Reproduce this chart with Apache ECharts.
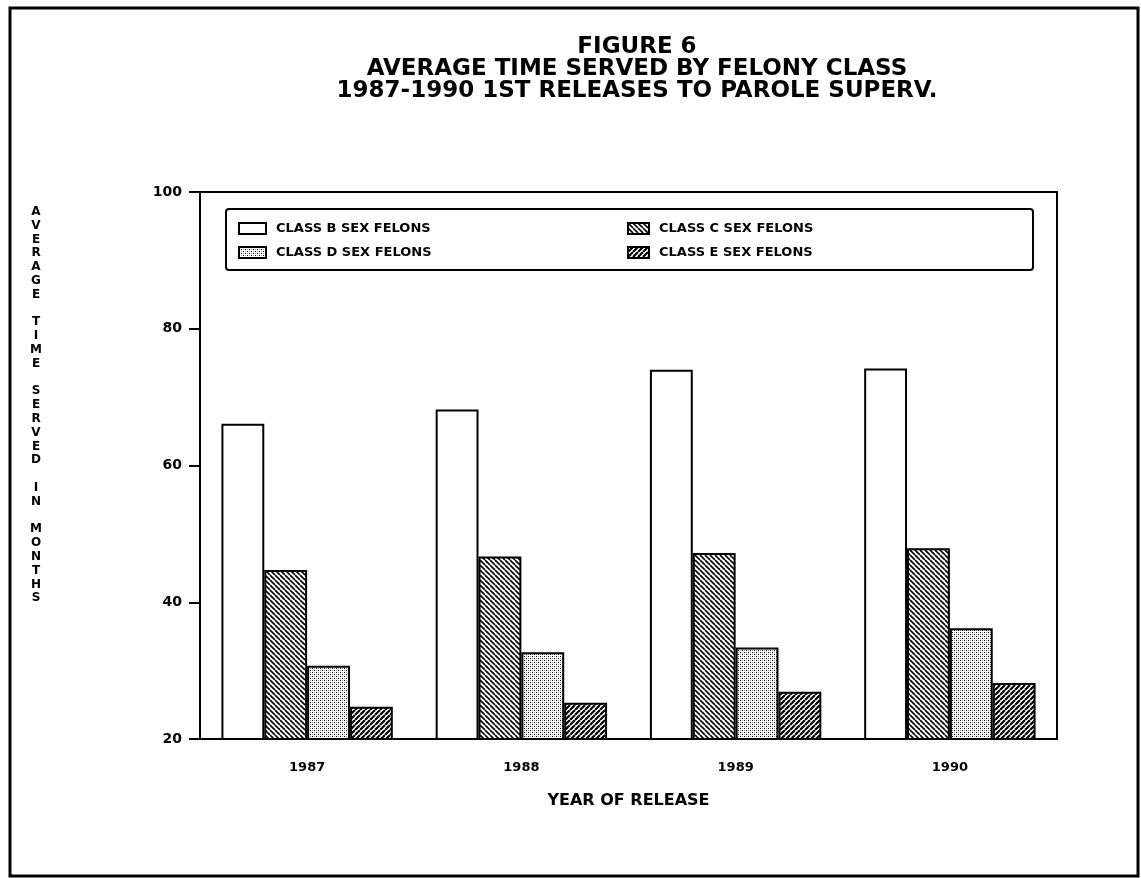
<!DOCTYPE html>
<html>
<head>
<meta charset="utf-8">
<script src="https://cdn.jsdelivr.net/npm/echarts@6/dist/echarts.min.js"></script>
<style>
  html, body { margin: 0; padding: 0; background: #fff; }
  #chart { width: 1141px; height: 878px; }
</style>
</head>
<body>
<div id="chart"></div>
<script>
// values
var years = ['1987', '1988', '1989', '1990'];
var seriesNames = ['CLASS B SEX FELONS', 'CLASS C SEX FELONS', 'CLASS D SEX FELONS', 'CLASS E SEX FELONS'];
var classB = [66.1, 68.2, 74.0, 74.2];
var classC = [44.7, 46.7, 47.2, 47.9];
var classD = [30.7, 32.7, 33.4, 36.2];
var classE = [24.7, 25.3, 26.9, 28.2];
var yTicks = [20, 40, 60, 80, 100];

var yTitle = 'AVERAGE TIME SERVED IN MONTHS';

// fill patterns (hatching / stipple like the printed figure)
function hatch(dir, size, lw) {
    var c = document.createElement('canvas');
    c.width = size; c.height = size;
    var g = c.getContext('2d');
    g.fillStyle = '#fff';
    g.fillRect(0, 0, size, size);
    g.strokeStyle = '#000';
    g.lineWidth = lw;
    g.beginPath();
    for (var k = -1; k <= 1; k++) {
        if (dir === 'back') {
            g.moveTo(k * size, 0); g.lineTo(k * size + size, size);
        } else {
            g.moveTo(k * size, size); g.lineTo(k * size + size, 0);
        }
    }
    g.stroke();
    return c;
}
function stipple() {
    var c = document.createElement('canvas');
    c.width = 4; c.height = 4;
    var g = c.getContext('2d');
    g.fillStyle = '#fff';
    g.fillRect(0, 0, 4, 4);
    g.fillStyle = '#000';
    g.fillRect(0, 0, 1, 1);
    g.fillRect(2, 2, 1, 1);
    g.fillStyle = '#999';
    g.fillRect(2, 0, 1, 1);
    g.fillRect(0, 2, 1, 1);
    return c;
}

var fills = [
    '#fff',
    { image: hatch('back', 5, 1.6), repeat: 'repeat' },
    { image: stipple(), repeat: 'repeat' },
    { image: hatch('fwd', 5, 2.2), repeat: 'repeat' }
];
var values = [classB, classC, classD, classE];

var myChart = echarts.init(document.getElementById('chart'));

var series = values.map(function (v, i) {
    return {
        name: seriesNames[i],
        type: 'bar',
        data: v,
        barGap: '0%',
        barCategoryGap: '20%',
        itemStyle: { color: fills[i], borderColor: '#000', borderWidth: 2 },
        emphasis: { disabled: true }
    };
});

var legendText = { fontFamily: 'DejaVu Sans', fontWeight: 'bold', fontSize: 13, color: '#000', padding: [0, 0, 0, 5] };

var option = {
    backgroundColor: '#fff',
    animation: false,
    textStyle: { fontFamily: 'DejaVu Sans' },
    title: [{
        text: 'FIGURE 6\nAVERAGE TIME SERVED BY FELONY CLASS\n1987-1990 1ST RELEASES TO PAROLE SUPERV.',
        left: 637,
        top: 36,
        textAlign: 'center',
        padding: 0,
        textStyle: { fontFamily: 'DejaVu Sans', fontWeight: 'bold', fontSize: 23, lineHeight: 22, color: '#000' }
    }, {
        text: yTitle.split('').join('\n'),
        left: 36,
        top: 205,
        textAlign: 'center',
        padding: 0,
        textStyle: { fontFamily: 'DejaVu Sans', fontWeight: 'bold', fontSize: 12, lineHeight: 13.8, color: '#000' }
    }],
    legend: [{
        data: [seriesNames[0], seriesNames[2]],
        orient: 'vertical',
        left: 238,
        top: 222,
        padding: 0,
        itemGap: 11,
        itemWidth: 27,
        itemHeight: 11,
        icon: 'rect',
        selectedMode: false,
        itemStyle: { borderColor: '#000', borderWidth: 2 },
        textStyle: legendText
    }, {
        data: [seriesNames[1], seriesNames[3]],
        orient: 'vertical',
        left: 627,
        top: 222,
        padding: 0,
        itemGap: 11,
        itemWidth: 21,
        itemHeight: 11,
        icon: 'rect',
        selectedMode: false,
        itemStyle: { borderColor: '#000', borderWidth: 2 },
        textStyle: legendText
    }],
    grid: {
        left: 200,
        right: 84,
        top: 192,
        bottom: 139,
        show: true,
        borderColor: '#000',
        borderWidth: 2,
        containLabel: false
    },
    xAxis: {
        type: 'category',
        data: years,
        name: 'YEAR OF RELEASE',
        nameLocation: 'middle',
        nameGap: 54,
        nameTextStyle: { fontFamily: 'DejaVu Sans', fontWeight: 'bold', fontSize: 16, color: '#000' },
        axisLine: { lineStyle: { color: '#000', width: 2 } },
        axisTick: { alignWithLabel: true, length: 10, lineStyle: { color: '#000', width: 1.5 } },
        axisLabel: { margin: 22, fontFamily: 'DejaVu Sans', fontWeight: 'bold', fontSize: 13, color: '#000' },
        splitLine: { show: false }
    },
    yAxis: {
        type: 'value',
        min: yTicks[0],
        max: yTicks[yTicks.length - 1],
        interval: 20,
        axisLine: { show: true, lineStyle: { color: '#000', width: 2 } },
        axisTick: { show: true, length: 11, lineStyle: { color: '#000', width: 2 } },
        axisLabel: { margin: 18, fontFamily: 'DejaVu Sans', fontWeight: 'bold', fontSize: 14, color: '#000' },
        splitLine: { show: false }
    },
    graphic: [{
        type: 'rect',
        shape: { x: 226, y: 209, width: 807, height: 61, r: 3 },
        style: { fill: null, stroke: '#000', lineWidth: 2 },
        z: 10
    }, {
        type: 'rect',
        shape: { x: 10, y: 8, width: 1128, height: 868 },
        style: { fill: null, stroke: '#000', lineWidth: 3 },
        z: 10
    }],
    series: series
};

myChart.setOption(option);
window.addEventListener('resize', function () {
    myChart.resize();
});
</script>
</body>
</html>
